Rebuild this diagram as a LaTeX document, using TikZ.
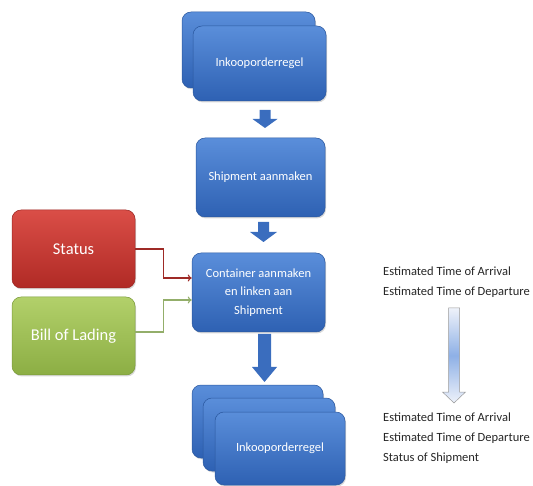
\documentclass[tikz,border=0pt]{standalone}
\usepackage{fontspec}
\setmainfont{Carlito}
\usetikzlibrary{shadows,arrows.meta,calc}
\definecolor{bxblueT}{HTML}{5A8EDA}
\definecolor{bxblueB}{HTML}{2E61B3}
\definecolor{bxblueD}{HTML}{2A579E}
\definecolor{bxredT}{HTML}{DA4E47}
\definecolor{bxredB}{HTML}{B02A25}
\definecolor{bxredD}{HTML}{9A2420}
\definecolor{bxgrnT}{HTML}{B2D06A}
\definecolor{bxgrnB}{HTML}{8CAE44}
\definecolor{bxgrnD}{HTML}{7A9A3A}
\definecolor{lnred}{HTML}{9E2A26}
\definecolor{lngrn}{HTML}{93AE6A}
\definecolor{arrblue}{HTML}{3A6DBE}
\definecolor{ltarrT}{HTML}{EEF2FA}
\definecolor{ltarrM}{HTML}{8EB0E6}
\newcommand\BlkArrow[6]{% x, ytop, headstart, tip, shafthalf, headhalf
  \fill[arrblue] ({#1-#5},#2) -- ({#1+#5},#2) -- ({#1+#5},#3) -- ({#1+#6},#3)
    -- (#1,#4) -- ({#1-#6},#3) -- ({#1-#5},#3) -- cycle;}
\tikzset{
  box/.style={rounded corners=9pt, inner sep=0pt, align=center, text=white,
    font=\fontsize{12.5}{18.5}\selectfont,
    drop shadow={opacity=0.3, shadow xshift=1pt, shadow yshift=-1.5pt}},
  bluebox/.style={box, draw=bxblueD, line width=0.5pt, top color=bxblueT, bottom color=bxblueB},
  redbox/.style={box, draw=bxredD, line width=0.5pt, top color=bxredT, bottom color=bxredB,
    font=\fontsize{16.5}{20}\selectfont},
  grnbox/.style={box, draw=bxgrnD, line width=0.5pt, top color=bxgrnT, bottom color=bxgrnB,
    font=\fontsize{16.5}{20}\selectfont},
  rtext/.style={inner sep=0pt, anchor=west, align=left, text=black!85,
    font=\fontsize{12.5}{19.7}\selectfont},
  feed/.style={line width=1.1pt, -{To[length=4pt,width=7pt]}},
}
\begin{document}
\begin{tikzpicture}[x=1pt,y=-1pt]
\useasboundingbox (0,0) rectangle (533,486);
% top stack
\node[bluebox, minimum width=133pt, minimum height=76pt] (topback) at (248.5,50) {};
\node[bluebox, minimum width=133pt, minimum height=75pt] (topfront) at (259.5,63.5) {Inkooporderregel};
% shipment
\node[bluebox, minimum width=129pt, minimum height=79pt] (ship) at (260.5,177.5) {Shipment aanmaken};
% container
\node[bluebox, minimum width=133pt, minimum height=79pt] (cont) at (258.5,292.5) {Container aanmaken\\en linken aan\\Shipment};
% status / bill
\node[redbox, minimum width=123pt, minimum height=78pt] (status) at (73.5,249) {Status};
\node[grnbox, minimum width=123pt, minimum height=78pt] (bill) at (73.5,336) {Bill of Lading};
% bottom stack
\node[bluebox, minimum width=131pt, minimum height=73pt] (bot1) at (257.5,421.5) {};
\node[bluebox, minimum width=132pt, minimum height=73pt] (bot2) at (269,434.5) {};
\node[bluebox, minimum width=130pt, minimum height=73pt] (bot3) at (280,448.5) {Inkooporderregel};
% block arrows
\BlkArrow{265}{110}{119}{128}{5.5}{12.5}
\BlkArrow{263.5}{222}{232}{242}{5.5}{13.5}
\BlkArrow{264.5}{334}{367}{382}{6.5}{12.5}
% feeders
\draw[feed, lnred] (status.east) -- ++(28,0) |- ($(cont.west)+(0,-14.5)$);
\draw[feed, lngrn] ($(bill.east)+(0,-4)$) -- ++(28,0) |- ($(cont.west)+(0,7.5)$);
% right side
\node[rtext] (eta1) at (383,282.5) {Estimated Time of Arrival\\Estimated Time of Departure};
\node[rtext] (eta2) at (383,438) {Estimated Time of Arrival\\Estimated Time of Departure\\Status of Shipment};
\draw[draw=black!40, line width=0.5pt, top color=ltarrT, bottom color=ltarrT, middle color=ltarrM]
  (448.5,308) -- (459.5,308) -- (459.5,392) -- (465.5,392) -- (454,403) -- (442.5,392) -- (448.5,392) -- cycle;
\end{tikzpicture}
\end{document}
